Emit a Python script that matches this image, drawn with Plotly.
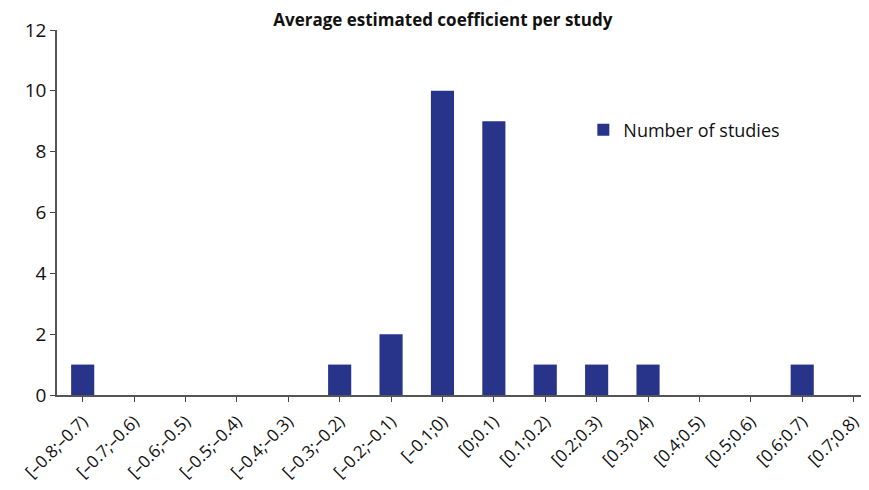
import plotly.graph_objects as go

categories = ["[–0.8;–0.7)", "[–0.7;–0.6)", "[–0.6;–0.5)", "[–0.5;–0.4)", "[–0.4;–0.3)",
              "[–0.3;–0.2)", "[–0.2;–0.1)", "[–0.1;0)", "[0;0.1)", "[0.1;0.2)",
              "[0.2;0.3)", "[0.3;0.4)", "[0.4;0.5)", "[0.5;0.6)", "[0.6;0.7)", "[0.7;0.8)"]
studies = [1, 0, 0, 0, 0, 1, 2, 10, 9, 1, 1, 1, 0, 0, 1, 0]
y_ticks = [0, 2, 4, 6, 8, 10, 12]

FONT = "Open Sans"

fig = go.Figure()
fig.add_trace(go.Bar(
    x=list(range(len(categories))), y=studies, name="Number of studies",
    marker=dict(color="#28348a", line=dict(color="#4a7fd6", width=0)),
    width=0.45,
))
# the page body adds an 8px offset, so the figure is sized to fill the rest of the window
fig.update_layout(
    width=861, height=482,
    margin=dict(l=49, r=1, t=22, b=95, autoexpand=False),
    paper_bgcolor="white", plot_bgcolor="white",
    title=dict(text="Average estimated coefficient per study", xref="container", x=0.505,
               xanchor="center", yref="container", y=0.975, yanchor="middle",
               pad=dict(t=0, b=0),
               font=dict(family=FONT, size=17, weight=700, color="#111")),
    showlegend=True,
    legend=dict(x=0.649, y=0.726, xanchor="left", yanchor="middle",
                font=dict(family=FONT, size=18, color="#111"), bgcolor="rgba(0,0,0,0)"),
    font=dict(family=FONT, color="#111"),
)
fig.update_xaxes(
    tickmode="array", tickvals=list(range(len(categories))), ticktext=categories,
    range=[-0.5, 15.28], tickangle=-45, tickson="boundaries", automargin=False,
    ticks="outside", ticklen=5, tickcolor="#444", ticklabelstandoff=3,
    showline=True, linecolor="#555", linewidth=1.5, showgrid=False,
    tickfont=dict(family=FONT, size=17, color="#111"),
)
fig.update_yaxes(
    range=[0, 12], tickvals=y_ticks, ticks="outside", ticklen=5, tickcolor="#444",
    automargin=False,
    showline=True, linecolor="#555", linewidth=1.5, showgrid=False, zeroline=False,
    tickfont=dict(family=FONT, size=19, color="#111"),
)
fig.write_html("out.html")
